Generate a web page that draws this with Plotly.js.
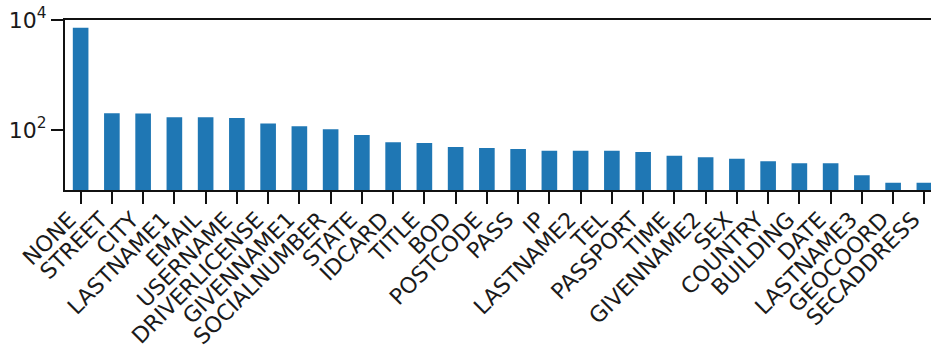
<!DOCTYPE html>
<html>
<head>
<meta charset="utf-8">
<script src="https://cdn.plot.ly/plotly-3.0.1.min.js"></script>
<style>
  html, body { margin: 0; padding: 0; overflow: hidden; background: #fff; }
  #chart { width: 940px; height: 350px; }
</style>
</head>
<body>
<div id="chart"></div>
<script>
// Entity categories, ordered by frequency
const categories = [
  "NONE", "STREET", "CITY", "LASTNAME1", "EMAIL", "USERNAME", "DRIVERLICENSE",
  "GIVENNAME1", "SOCIALNUMBER", "STATE", "IDCARD", "TITLE", "BOD", "POSTCODE",
  "PASS", "IP", "LASTNAME2", "TEL", "PASSPORT", "TIME", "GIVENNAME2", "SEX",
  "COUNTRY", "BUILDING", "DATE", "LASTNAME3", "GEOCOORD", "SECADDRESS"
];

// Occurrence counts per category
const counts = [
  7250, 201, 200, 170, 170, 165, 132,
  117, 103, 81, 60, 58, 49, 47,
  45, 42, 42, 42, 40, 34, 32, 30,
  27, 25, 25, 15, 11, 11
];

// Log-axis tick positions and labels
const yTickVals = [100, 10000];
const yTickText = ["10<sup>2</sup>", "10<sup>4</sup>"];

const font = { family: "DejaVu Sans, sans-serif", size: 22, color: "#1a1a1a" };

const trace = {
  type: "bar",
  x: categories,
  y: counts,
  marker: { color: "#1f77b4", line: { width: 0 } },
  hoverinfo: "x+y"
};

const layout = {
  width: 940,
  height: 350,
  margin: { l: 65, r: 0, t: 20, b: 160 },
  paper_bgcolor: "#fff",
  plot_bgcolor: "#fff",
  font: font,
  showlegend: false,
  bargap: 0.5,
  xaxis: {
    type: "category",
    tickangle: -45,
    ticks: "outside",
    ticklen: 12,
    tickwidth: 2,
    tickcolor: "#111",
    // pull the slanted labels up and left so their ends sit under each tick
    ticklabelshift: -11,
    ticklabelstandoff: -6,
    showline: true,
    linecolor: "#111",
    linewidth: 2,
    mirror: true,
    showgrid: false,
    zeroline: false,
    tickfont: font
  },
  yaxis: {
    type: "log",
    range: [0.91, 4.0],
    tickvals: yTickVals,
    ticktext: yTickText,
    ticks: "outside",
    ticklen: 12,
    tickwidth: 2,
    tickcolor: "#111",
    showline: true,
    linecolor: "#111",
    linewidth: 2,
    mirror: true,
    showgrid: false,
    zeroline: false,
    tickfont: font
  }
};

Plotly.newPlot("chart", [trace], layout, { displayModeBar: false, staticPlot: true });
</script>
</body>
</html>
